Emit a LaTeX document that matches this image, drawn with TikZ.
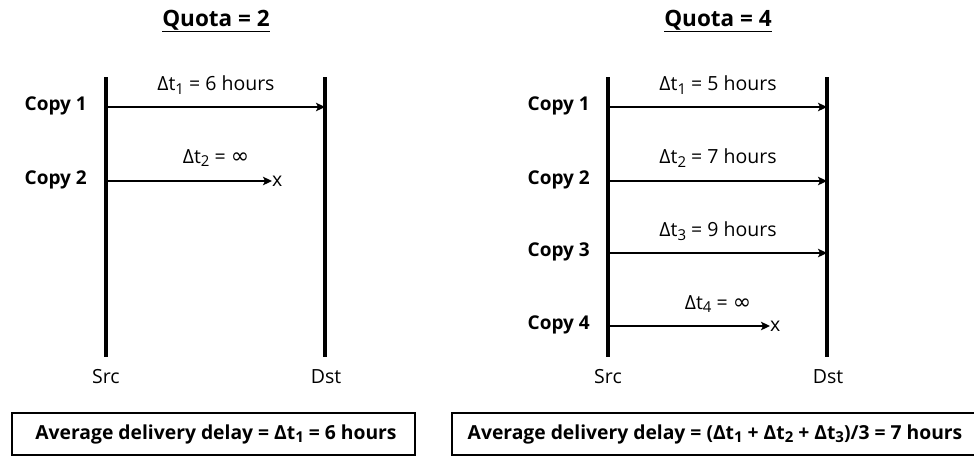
\documentclass[tikz,border=0pt]{standalone}
\usepackage{fontspec}
\setmainfont{Open Sans}
\newfontfamily\symf{DejaVu Sans}
\usetikzlibrary{arrows.meta}
\newcommand{\dsub}[1]{\raisebox{-0.35ex}{\fontsize{15}{15}\selectfont #1}}
\newcommand{\dinf}{{\symf\fontsize{22}{22}\selectfont ∞}}
\begin{document}
\begin{tikzpicture}[x=1pt,y=-1pt,
  life/.style={line width=3.6pt},
  msg/.style={line width=1.4pt,-{Stealth[length=9pt,width=8.5pt,inset=2pt]}},
  copylbl/.style={font=\fontsize{19}{21}\selectfont\bfseries,anchor=east,inner sep=0pt},
  msglbl/.style={font=\fontsize{19.5}{22}\selectfont,inner sep=0pt},
  endlbl/.style={font=\fontsize{19.5}{22}\selectfont,inner sep=0pt},
  title/.style={font=\fontsize{22.5}{25}\selectfont\bfseries,inner sep=0pt},
  sumtxt/.style={font=\fontsize{19.3}{22}\selectfont\bfseries,inner sep=0pt},
  sumbox/.style={draw,line width=1.4pt}
]
\useasboundingbox (0,0) rectangle (974,456);
\fill[white] (0,0) rectangle (974,456);

% ---------- left panel ----------
\node[title] (t1) at (216,21) {\underline{Quota = 2}};
\coordinate (s1t) at (106,77);
\coordinate (s1b) at (106,357);
\coordinate (d1t) at (325,77);
\coordinate (d1b) at (325,357);
\draw[life] (s1t) -- (s1b);
\draw[life] (d1t) -- (d1b);
\node[endlbl] (src1) at (106,377) {Src};
\node[endlbl] (dst1) at (326,377) {Dst};

\node[copylbl] (c11) at (87,106) {Copy 1};
\node[copylbl] (c12) at (87,180) {Copy 2};
\coordinate (m11s) at (106,107);
\coordinate (m11e) at (325,107);
\coordinate (m12s) at (106,181);
\node[endlbl,anchor=west] (x1) at (272,181) {x};
\draw[msg] (m11s) -- (m11e);
\draw[msg] (m12s) -- (m12s -| x1.west);
\node[msglbl] (l11) at (216,85) {Δt\dsub{1} = 6 hours};
\node[msglbl] (l12) at (216,158) {Δt\dsub{2} = \dinf};

\coordinate (b1a) at (12,413);
\coordinate (b1b) at (415,455);
\draw[sumbox] (b1a) rectangle (b1b);
\node[sumtxt] (b1t) at (216,434) {Average delivery delay = Δt\dsub{1} = 6 hours};

% ---------- right panel ----------
\node[title] (t2) at (718,21) {\underline{Quota = 4}};
\coordinate (s2t) at (608,77);
\coordinate (s2b) at (608,357);
\coordinate (d2t) at (827,77);
\coordinate (d2b) at (827,357);
\draw[life] (s2t) -- (s2b);
\draw[life] (d2t) -- (d2b);
\node[endlbl] (src2) at (608,377) {Src};
\node[endlbl] (dst2) at (828,377) {Dst};

\node[copylbl] (c21) at (590,106) {Copy 1};
\node[copylbl] (c22) at (590,180) {Copy 2};
\node[copylbl] (c23) at (590,252) {Copy 3};
\node[copylbl] (c24) at (590,325) {Copy 4};
\coordinate (m21s) at (608,107);
\coordinate (m21e) at (827,107);
\coordinate (m22s) at (608,181);
\coordinate (m22e) at (827,181);
\coordinate (m23s) at (608,253);
\coordinate (m23e) at (827,253);
\coordinate (m24s) at (608,326);
\node[endlbl,anchor=west] (x2) at (770,326) {x};
\draw[msg] (m21s) -- (m21e);
\draw[msg] (m22s) -- (m22e);
\draw[msg] (m23s) -- (m23e);
\draw[msg] (m24s) -- (m24s -| x2.west);
\node[msglbl] (l21) at (718,85) {Δt\dsub{1} = 5 hours};
\node[msglbl] (l22) at (718,158) {Δt\dsub{2} = 7 hours};
\node[msglbl] (l23) at (718,231) {Δt\dsub{3} = 9 hours};
\node[msglbl] (l24) at (718,304) {Δt\dsub{4} = \dinf};

\coordinate (b2a) at (452,413);
\coordinate (b2b) at (452,455);
\coordinate (b2r1) at (990,413);
\coordinate (b2r2) at (990,455);
\draw[sumbox] (b2r1) -- (b2a) -- (b2b) -- (b2r2);
\node[sumtxt] (b2t) at (715,434) {Average delivery delay = (Δt\dsub{1} + Δt\dsub{2} + Δt\dsub{3})/3 = 7 hours};
\end{tikzpicture}
\end{document}
